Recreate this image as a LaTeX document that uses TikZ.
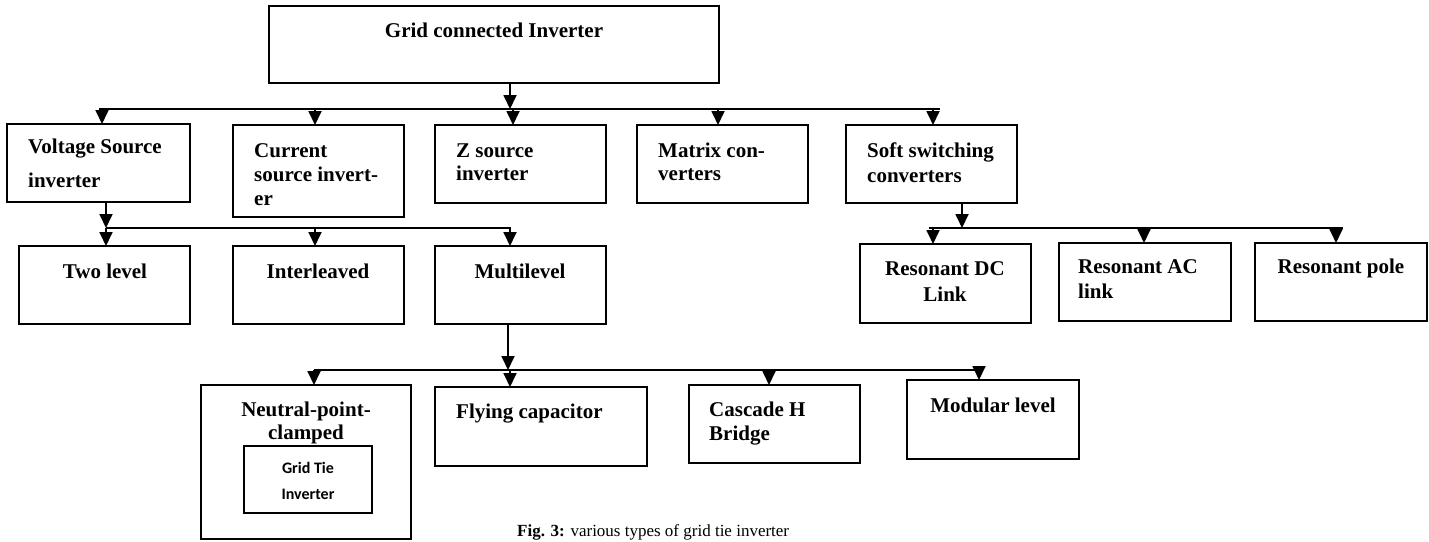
\documentclass[tikz,border=0pt]{standalone}
\usepackage{fontspec}
\setmainfont{Liberation Serif}
\newfontfamily\calfont{Carlito}
\usetikzlibrary{arrows.meta}
\begin{document}
\begin{tikzpicture}[x=1pt,y=-1pt,
  box/.style={draw, line width=1.8pt, inner sep=0pt, outer sep=0pt, anchor=north west},
  arr/.style={line width=1.8pt, -{Triangle[width=13pt,length=14pt]}},
  bus/.style={line width=1.8pt},
  lbl/.style={font=\fontsize{21}{24}\selectfont\bfseries, inner sep=0pt},
  inl/.style={font=\fontsize{16}{19}\selectfont\calfont\bfseries, inner sep=0pt},
  captxt/.style={font=\fontsize{17}{20}\selectfont, inner sep=0pt}
]
\useasboundingbox (0,0) rectangle (1429,541);
\clip (0,0) rectangle (1429,541);

% boxes
\node[box, minimum width=450pt, minimum height=77pt] (gci) at (269,6) {};
\node[box, minimum width=183pt, minimum height=78pt] (vsi) at (7,124) {};
\node[box, minimum width=171pt, minimum height=92pt] (csi) at (233,125) {};
\node[box, minimum width=171pt, minimum height=78pt] (zsi) at (435,125) {};
\node[box, minimum width=171pt, minimum height=78pt] (mat) at (637,125) {};
\node[box, minimum width=171pt, minimum height=78pt] (soft) at (846,125) {};
\node[box, minimum width=171pt, minimum height=78pt] (two) at (19,246) {};
\node[box, minimum width=171pt, minimum height=78pt] (intl) at (233,246) {};
\node[box, minimum width=171pt, minimum height=78pt] (mlt) at (435,246) {};
\node[box, minimum width=210pt, minimum height=154pt] (npc) at (201,385) {};
\node[box, minimum width=128pt, minimum height=67pt] (npcin) at (244,446) {};
\node[box, minimum width=212pt, minimum height=79pt] (fly) at (435,387) {};
\node[box, minimum width=171pt, minimum height=78pt] (chb) at (689,385) {};
\node[box, minimum width=172pt, minimum height=79pt] (mod) at (907,380) {};
\node[box, minimum width=171pt, minimum height=79pt] (rdc) at (860,244) {};
\node[box, minimum width=172pt, minimum height=78pt] (rac) at (1059,243) {};
\node[box, minimum width=172pt, minimum height=78pt] (rpole) at (1255,243) {};

% texts
\node[lbl, anchor=base] (gciT) at (494,37) {Grid connected Inverter};
\node[lbl, anchor=base west] (vsiT1) at (28,153) {Voltage Source};
\node[lbl, anchor=base west] (vsiT2) at (28,187) {inverter};
\node[lbl, anchor=base west] (csiT1) at (254,157) {Current};
\node[lbl, anchor=base west] (csiT2) at (254,181) {source invert-};
\node[lbl, anchor=base west] (csiT3) at (254,205) {er};
\node[lbl, anchor=base west] (zsiT1) at (456,157) {Z source};
\node[lbl, anchor=base west] (zsiT2) at (456,180) {inverter};
\node[lbl, anchor=base west] (matT1) at (658,157) {Matrix con-};
\node[lbl, anchor=base west] (matT2) at (658,180) {verters};
\node[lbl, anchor=base west] (softT1) at (867,157) {Soft switching};
\node[lbl, anchor=base west] (softT2) at (867,182) {converters};
\node[lbl, anchor=base] (twoT) at (105,278) {Two level};
\node[lbl, anchor=base] (intlT) at (318,278) {Interleaved};
\node[lbl, anchor=base] (mltT) at (520,278) {Multilevel};
\node[lbl, anchor=base] (npcT1) at (306,416) {Neutral-point-};
\node[lbl, anchor=base] (npcT2) at (306,439) {clamped};
\node[inl, anchor=base] (npcinT1) at (308,473) {Grid Tie};
\node[inl, anchor=base] (npcinT2) at (308,499) {Inverter};
\node[lbl, anchor=base west] (flyT) at (456,418) {Flying capacitor};
\node[lbl, anchor=base west] (chbT1) at (709,416) {Cascade H};
\node[lbl, anchor=base west] (chbT2) at (709,440) {Bridge};
\node[lbl, anchor=base] (modT) at (993,412) {Modular level};
\node[lbl, anchor=base] (rdcT1) at (945,275) {Resonant DC};
\node[lbl, anchor=base] (rdcT2) at (945,301) {Link};
\node[lbl, anchor=base west] (racT1) at (1078,273) {Resonant AC};
\node[lbl, anchor=base west] (racT2) at (1078,298) {link};
\node[lbl, anchor=base] (rpoleT) at (1341,273) {Resonant pole};
\node[captxt, anchor=base west] (caption) at (517,536) {\textbf{Fig. 3:} various types of grid tie inverter};

% bus coordinates
\coordinate (b1L) at (99,109);  \coordinate (b1R) at (940,109);
\coordinate (b2L) at (106,228); \coordinate (b2R) at (511,228);
\coordinate (b3L) at (314,370); \coordinate (b3R) at (980,370);
\coordinate (b4L) at (929,228); \coordinate (b4R) at (1343,228);

% level 1
\draw[arr] ([xshift=16pt]gci.south) -- ([xshift=16pt]gci.south |- b1L);
\draw[bus] (b1L) -- (b1R);
\draw[arr] ([xshift=3.5pt]vsi.north |- b1L) -- ([xshift=3.5pt]vsi.north);
\draw[arr] ([xshift=-3.5pt]csi.north |- b1L) -- ([xshift=-3.5pt]csi.north);
\draw[arr] ([xshift=-7.5pt]zsi.north |- b1L) -- ([xshift=-7.5pt]zsi.north);
\draw[arr] ([xshift=-4.5pt]mat.north |- b1L) -- ([xshift=-4.5pt]mat.north);
\draw[arr] ([xshift=1.5pt]soft.north |- b1L) -- ([xshift=1.5pt]soft.north);

% VSI branch
\draw[arr] ([xshift=7.5pt]vsi.south) -- ([xshift=7.5pt]vsi.south |- b2L);
\draw[bus] (b2L) -- (b2R);
\draw[arr] ([xshift=1.5pt]two.north |- b2L) -- ([xshift=1.5pt]two.north);
\draw[arr] ([xshift=-3.5pt]intl.north |- b2L) -- ([xshift=-3.5pt]intl.north);
\draw[arr] ([xshift=-10.5pt]mlt.north |- b2L) -- ([xshift=-10.5pt]mlt.north);

% Multilevel branch
\draw[arr] ([xshift=-12.5pt]mlt.south) -- ([xshift=-12.5pt]mlt.south |- b3L);
\draw[bus] (b3L) -- (b3R);
\draw[arr] ([xshift=8pt]npc.north |- b3L) -- ([xshift=8pt]npc.north);
\draw[arr] ([xshift=-31pt]fly.north |- b3L) -- ([xshift=-31pt]fly.north);
\draw[arr] ([xshift=-5.5pt]chb.north |- b3L) -- ([xshift=-5.5pt]chb.north);
\draw[arr] ([xshift=-14pt]mod.north |- b3L) -- ([xshift=-14pt]mod.north);

% Soft switching branch
\draw[arr] ([xshift=30.5pt]soft.south) -- ([xshift=30.5pt]soft.south |- b4L);
\draw[bus] (b4L) -- (b4R);
\draw[arr] ([xshift=-12.5pt]rdc.north |- b4L) -- ([xshift=-12.5pt]rdc.north);
\draw[arr] ([xshift=-1pt]rac.north |- b4L) -- ([xshift=-1pt]rac.north);
\draw[arr] ([xshift=-5pt]rpole.north |- b4L) -- ([xshift=-5pt]rpole.north);
\end{tikzpicture}
\end{document}
